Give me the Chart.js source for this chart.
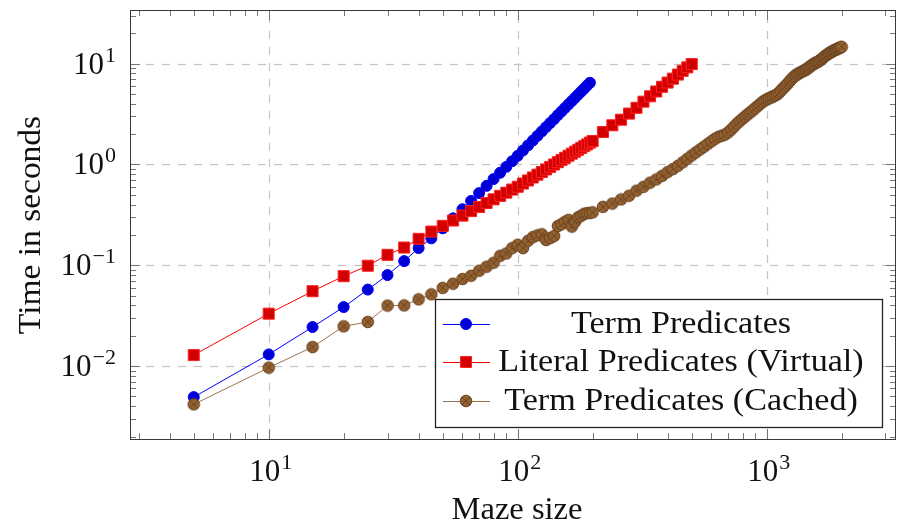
<!DOCTYPE html>
<html lang="en">
<head>
  <meta charset="UTF-8">
  <title>Maze timings</title>
  <script src="https://cdn.jsdelivr.net/npm/chart.js@4.4.1/dist/chart.umd.min.js"></script>
  <style>
    body { margin: 0; background: #fff; }
    #wrap { width: 897px; height: 527px; }
  </style>
</head>
<body>
  <div id="wrap"><canvas id="maze-chart" width="897" height="527"></canvas></div>

  <script>
    // maze sizes and timings (seconds)
    var termSizes = [5, 10, 15, 20, 25, 30, 35, 40, 45, 50, 55, 60, 65, 70, 75, 80, 85, 90, 95, 100,
      105, 110, 115, 120, 125, 130, 135, 140, 145, 150, 155, 160, 165, 170, 175, 180, 185, 190, 195];
    var termTimes = [0.00492, 0.01306, 0.0244, 0.0385, 0.0574, 0.080, 0.110, 0.148, 0.185, 0.233,
      0.292, 0.360, 0.435, 0.520, 0.614, 0.716, 0.828, 0.948, 1.079, 1.219,
      1.377, 1.547, 1.729, 1.923, 2.13, 2.35, 2.58, 2.82, 3.09, 3.36,
      3.65, 3.95, 4.26, 4.59, 4.94, 5.30, 5.67, 6.07, 6.47];

    var virtualSizes = [5, 10, 15, 20, 25, 30, 35, 40, 45, 50, 55, 60, 65, 70, 75, 80, 85, 90, 95, 100,
      105, 110, 115, 120, 125, 130, 135, 140, 145, 150, 155, 160, 165, 170, 175, 180, 185, 190, 195, 200,
      220, 240, 260, 280, 300, 320, 340, 360, 380, 400, 420, 440, 460, 480, 500];
    var virtualTimes = [0.01286, 0.0331, 0.0553, 0.078, 0.099, 0.127, 0.150, 0.183, 0.216, 0.246,
      0.278, 0.311, 0.345, 0.379, 0.415, 0.451, 0.488, 0.525, 0.564, 0.601,
      0.647, 0.694, 0.743, 0.792, 0.842, 0.893, 0.946, 1.00, 1.054, 1.109,
      1.165, 1.222, 1.28, 1.339, 1.40, 1.46, 1.52, 1.58, 1.65, 1.71,
      2.1, 2.45, 2.78, 3.2, 3.65, 4.2, 4.75, 5.3, 5.9, 6.5, 7.1, 7.8, 8.5, 9.2, 9.9];

    var cachedSizes = [5, 10, 15, 20, 25, 30, 35, 40, 45, 50, 55, 60, 65, 70, 75, 80, 85, 90, 95, 100,
      105, 110, 115, 120, 125, 130, 135, 140, 145, 150, 155, 160, 165, 170, 175, 180, 185, 190, 195, 200,
      220, 240, 260, 280, 300, 320, 340, 360, 380, 400, 420, 440, 460, 480, 500,
      520, 540, 560, 580, 600, 620, 640, 660, 680, 700, 720, 740, 760, 780, 800,
      820, 840, 860, 880, 900, 920, 940, 960, 980, 1000, 1020, 1040, 1060, 1080, 1100,
      1120, 1140, 1160, 1180, 1200, 1220, 1240, 1260, 1280, 1300, 1320, 1340, 1360, 1380, 1400,
      1420, 1440, 1460, 1480, 1500, 1520, 1540, 1560, 1580, 1600, 1620, 1640, 1660, 1680, 1700,
      1720, 1740, 1760, 1780, 1800, 1820, 1840, 1860, 1880, 1900, 1920, 1940, 1960, 1980, 2000];
    var cachedTimes = [0.00417, 0.00964, 0.01545, 0.0248, 0.0274, 0.0398, 0.0400, 0.0459, 0.0515, 0.0596,
      0.0656, 0.073, 0.0787, 0.0883, 0.0968, 0.106, 0.124, 0.131, 0.148, 0.160,
      0.148, 0.175, 0.190, 0.198, 0.203, 0.178, 0.186, 0.195, 0.245, 0.255,
      0.27, 0.282, 0.242, 0.27, 0.30, 0.31, 0.325, 0.329, 0.33, 0.335,
      0.38, 0.41, 0.45, 0.49, 0.55, 0.60, 0.66, 0.71, 0.77, 0.84, 0.90, 0.97, 1.05, 1.14, 1.23,
      1.32, 1.41, 1.50, 1.60, 1.70, 1.80, 1.88, 1.93, 1.98, 2.08, 2.22, 2.38, 2.55, 2.70, 2.85,
      3.00, 3.15, 3.30, 3.45, 3.62, 3.80, 3.98, 4.15, 4.30, 4.42, 4.52, 4.62, 4.72, 4.83, 4.95,
      5.15, 5.40, 5.65, 5.90, 6.15, 6.45, 6.75, 7.05, 7.35, 7.60, 7.80, 7.98, 8.15, 8.30, 8.45,
      8.60, 8.75, 8.95, 9.20, 9.45, 9.70, 9.90, 10.10, 10.25, 10.40, 10.60, 10.85, 11.10, 11.40, 11.70,
      11.95, 12.20, 12.45, 12.70, 12.90, 13.10, 13.30, 13.50, 13.70, 13.85, 14.00, 14.15, 14.35, 14.50, 14.70];

    var seriesNames = ["Term Predicates", "Literal Predicates (Virtual)", "Term Predicates (Cached)"];
    var xExponents = [1, 2, 3];
    var yExponents = [-2, -1, 0, 1];

    var SERIF = '"Liberation Serif", "DejaVu Serif", serif';

    function toPoints(xs, ys) {
      return xs.map((x, i) => ({ x: x, y: ys[i] }));
    }

    // circle with a cross in it (pgfplots "otimes")
    function otimesMark(fill, stroke) {
      let c = document.createElement('canvas');
      c.width = 14; c.height = 14;
      let g = c.getContext('2d');
      g.beginPath();
      g.arc(7, 7, 5.8, 0, Math.PI * 2);
      g.fillStyle = fill;
      g.fill();
      g.lineWidth = 1;
      g.strokeStyle = stroke;
      g.stroke();
      let d = 5.8 * Math.SQRT1_2;
      g.beginPath();
      g.moveTo(7 - d, 7 - d); g.lineTo(7 + d, 7 + d);
      g.moveTo(7 + d, 7 - d); g.lineTo(7 - d, 7 + d);
      g.stroke();
      return c;
    }
    var brownMark = otimesMark('#93602f', '#6b4523');

    var styles = [
      { line: '#0000ff', fill: '#0000d4', border: '#0000ff', point: 'circle', radius: 5.5 },
      { line: '#ff0000', fill: '#d20000', border: '#ff2020', point: 'rect', radius: 7.8 },
      { line: '#9c7350', fill: '#93602f', border: '#6b4523', point: brownMark, radius: 6 }
    ];

    // text drawn a little wider, Times is narrower than Computer Modern
    function wideText(ctx, text, x, y, sx) {
      ctx.save();
      ctx.translate(x, y);
      ctx.scale(sx, 1);
      ctx.fillText(text, 0, 0);
      ctx.restore();
    }

    function powLabel(ctx, exp, x, y, align) {
      let base = '10';
      let sup = String(exp).replace('-', '\u2212');
      ctx.font = '31px ' + SERIF;
      let wb = ctx.measureText(base).width;
      ctx.font = '22px ' + SERIF;
      let ws = ctx.measureText(sup).width + 1;
      let x0 = align === 'right' ? x - wb - ws : x - (wb + ws) / 2;
      ctx.textAlign = 'left';
      ctx.textBaseline = 'alphabetic';
      ctx.font = '31px ' + SERIF;
      ctx.fillText(base, x0, y);
      ctx.font = '22px ' + SERIF;
      ctx.fillText(sup, x0 + wb + 1, y - 12);
    }

    function minorValues(min, max) {
      let out = [];
      for (let e = Math.floor(Math.log10(min)); e <= Math.ceil(Math.log10(max)); e++) {
        for (let m = 1; m < 10; m++) {
          let v = m * Math.pow(10, e);
          if (v >= min && v <= max) out.push({ v: v, major: m === 1 });
        }
      }
      return out;
    }

    const axesPlugin = {
      id: 'pgfAxes',
      beforeDatasetsDraw(chart) {
        const { ctx, chartArea: a, scales } = chart;
        ctx.save();
        ctx.strokeStyle = '#c4c4c4';
        ctx.lineWidth = 1.2;
        ctx.setLineDash([8, 8]);
        xExponents.forEach(e => {
          let px = Math.round(scales.x.getPixelForValue(Math.pow(10, e))) + 0.5;
          ctx.beginPath(); ctx.moveTo(px, a.bottom); ctx.lineTo(px, a.top); ctx.stroke();
        });
        yExponents.forEach(e => {
          let py = Math.round(scales.y.getPixelForValue(Math.pow(10, e))) + 0.5;
          ctx.beginPath(); ctx.moveTo(a.left, py); ctx.lineTo(a.right, py); ctx.stroke();
        });
        ctx.restore();
      },
      afterDraw(chart) {
        const { ctx, chartArea: a, scales } = chart;
        ctx.save();
        // ticks, inward on all four sides
        ctx.strokeStyle = '#777';
        ctx.lineWidth = 1;
        minorValues(scales.x.min, scales.x.max).forEach(t => {
          let px = Math.round(scales.x.getPixelForValue(t.v)) + 0.5;
          let len = t.major ? 10 : 6;
          ctx.beginPath();
          ctx.moveTo(px, a.bottom); ctx.lineTo(px, a.bottom - len);
          ctx.moveTo(px, a.top); ctx.lineTo(px, a.top + len);
          ctx.stroke();
        });
        minorValues(scales.y.min, scales.y.max).forEach(t => {
          let py = Math.round(scales.y.getPixelForValue(t.v)) + 0.5;
          let len = t.major ? 10 : 6;
          ctx.beginPath();
          ctx.moveTo(a.left, py); ctx.lineTo(a.left + len, py);
          ctx.moveTo(a.right, py); ctx.lineTo(a.right - len, py);
          ctx.stroke();
        });
        // frame
        ctx.strokeStyle = '#3a3a3a';
        ctx.strokeRect(Math.round(a.left) + 0.5, Math.round(a.top) + 0.5,
          Math.round(a.right - a.left) - 1, Math.round(a.bottom - a.top));

        // tick labels
        ctx.fillStyle = '#111';
        xExponents.forEach(e => {
          powLabel(ctx, e, scales.x.getPixelForValue(Math.pow(10, e)) + 2, 481, 'center');
        });
        yExponents.forEach(e => {
          powLabel(ctx, e, 116, scales.y.getPixelForValue(Math.pow(10, e)) + 10, 'right');
        });

        // axis titles
        ctx.font = '31px ' + SERIF;
        ctx.textAlign = 'center';
        ctx.textBaseline = 'alphabetic';
        wideText(ctx, 'Maze size', 517, 519, 1.05);
        ctx.save();
        ctx.translate(40, 225);
        ctx.rotate(-Math.PI / 2);
        wideText(ctx, 'Time in seconds', 0, 0, 1.08);
        ctx.restore();

        // legend box
        let lx = 435, ly = 299, lw = 447, lh = 128;
        ctx.fillStyle = '#fff';
        ctx.fillRect(lx, ly, lw, lh);
        ctx.strokeStyle = '#222';
        ctx.lineWidth = 1.3;
        ctx.strokeRect(lx + 0.5, ly + 0.5, lw, lh);
        let rows = [324, 362, 401];
        seriesNames.forEach((name, i) => {
          let s = styles[i];
          let ry = rows[i];
          ctx.strokeStyle = s.line;
          ctx.lineWidth = 1;
          ctx.beginPath(); ctx.moveTo(443, ry + 0.5); ctx.lineTo(490, ry + 0.5); ctx.stroke();
          ctx.fillStyle = s.fill;
          ctx.strokeStyle = s.border;
          if (s.point === brownMark) {
            ctx.drawImage(brownMark, 466 - 7, ry - 7);
          } else {
            ctx.beginPath();
            if (s.point === 'circle') {
              ctx.arc(466, ry, s.radius, 0, Math.PI * 2);
            } else {
              let h = s.radius * Math.SQRT1_2;
              ctx.rect(466 - h, ry - h, 2 * h, 2 * h);
            }
            ctx.fill(); ctx.stroke();
          }
          ctx.fillStyle = '#111';
          ctx.font = '31px ' + SERIF;
          ctx.textAlign = 'center';
          ctx.textBaseline = 'middle';
          wideText(ctx, name, 681, ry + 1, 1.1);
        });
        ctx.restore();
      }
    };

    var datasets = [
      { data: toPoints(termSizes, termTimes), order: 3 },
      { data: toPoints(virtualSizes, virtualTimes), order: 2 },
      { data: toPoints(cachedSizes, cachedTimes), order: 1 }
    ].map((d, i) => Object.assign(d, {
      label: seriesNames[i],
      borderColor: styles[i].line,
      borderWidth: 1,
      backgroundColor: styles[i].fill,
      pointBackgroundColor: styles[i].fill,
      pointBorderColor: styles[i].border,
      pointBorderWidth: 1,
      pointStyle: styles[i].point,
      pointRadius: styles[i].radius,
      tension: 0,
      clip: false
    }));

    function flatX(s) { s.height = 0; s.paddingLeft = 0; s.paddingRight = 0; }
    function flatY(s) { s.width = 0; s.paddingTop = 0; s.paddingBottom = 0; }

    new Chart(document.getElementById('maze-chart'), {
      type: 'line',
      data: { datasets: datasets },
      plugins: [axesPlugin],
      options: {
        responsive: false,
        animation: false,
        devicePixelRatio: 1,
        layout: { autoPadding: false, padding: { left: 130, top: 10, right: 1, bottom: 88 } },
        plugins: { legend: { display: false }, tooltip: { enabled: false } },
        scales: {
          x: {
            type: 'logarithmic', min: 2.773, max: 3306, afterFit: flatX,
            grid: { display: false, drawTicks: false }, border: { display: false }, ticks: { display: false }
          },
          y: {
            type: 'logarithmic', min: 0.00189, max: 34.1, afterFit: flatY,
            grid: { display: false, drawTicks: false }, border: { display: false }, ticks: { display: false }
          }
        }
      }
    });
  </script>
</body>
</html>
